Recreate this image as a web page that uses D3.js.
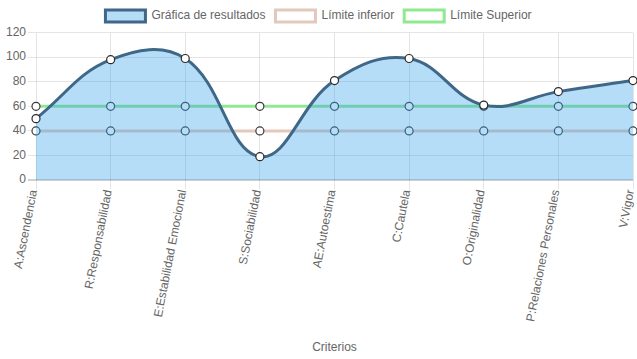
<!DOCTYPE html>
<html><head><meta charset="utf-8">
<script src="https://cdn.jsdelivr.net/npm/d3@7"></script>
<style>body{margin:0;background:#fff}svg{display:block}text{font-family:"Liberation Sans",Arial,Helvetica,sans-serif;}</style>
</head><body>
<svg id="c" width="637" height="359"></svg>
<script>
const categories = ["A:Ascendencia","R:Responsabilidad","E:Estabilidad Emocional","S:Sociabilidad","AE:Autoestima","C:Cautela","O:Originalidad","P:Relaciones Personales","V:Vigor"];
const resultados = [50, 98, 99, 19, 81, 99, 61, 72, 81];
const limiteInferior = [40, 40, 40, 40, 40, 40, 40, 40, 40];
const limiteSuperior = [60, 60, 60, 60, 60, 60, 60, 60, 60];
const yTicks = [0, 20, 40, 60, 80, 100, 120];
const legendLabels = ["Gráfica de resultados", "Límite inferior", "Límite Superior"];
const xTitle = "Criterios";

(function () {
const W = 637, H = 359;
const pL = 36, pR = 633, pT = 32.7, pB = 180;
const svg = d3.select("#c");
const x = d3.scalePoint().domain(categories).range([pL, pR]);
const y = d3.scaleLinear().domain([0, 120]).range([pB, pT]);

const grid = "rgba(0,0,0,0.1)";
const txt = "#666";

const g = svg.append("g");
yTicks.forEach(t => {
  g.append("line").attr("x1", pL - 8).attr("x2", pR).attr("y1", y(t)).attr("y2", y(t))
    .attr("stroke", t === 0 ? "rgba(0,0,0,0.18)" : grid).attr("stroke-width", t === 0 ? 2 : 1).attr("shape-rendering","crispEdges");
  g.append("text").attr("x", pL - 10).attr("y", y(t)).attr("text-anchor", "end")
    .attr("dominant-baseline", "middle").attr("font-size", 12).attr("fill", txt).text(t);
});
categories.forEach(c => {
  g.append("line").attr("x1", x(c)).attr("x2", x(c)).attr("y1", pT).attr("y2", pB + 9)
    .attr("stroke", grid).attr("shape-rendering","crispEdges");
  g.append("text").attr("transform", `translate(${x(c) - 2},${pB + 10}) rotate(-79)`)
    .attr("text-anchor", "end").attr("dominant-baseline", "middle")
    .attr("font-size", 12).attr("fill", txt).text(c);
});
svg.append("text").attr("x", (pL + pR) / 2).attr("y", 348).attr("text-anchor", "middle")
  .attr("dominant-baseline", "middle").attr("font-size", 12).attr("fill", txt).text(xTitle);

function controlPoints(pts, t) {
  return pts.map((p, i) => {
    const prev = pts[i - 1] || p, next = pts[i + 1] || p;
    const d01 = Math.hypot(p[0] - prev[0], p[1] - prev[1]);
    const d12 = Math.hypot(next[0] - p[0], next[1] - p[1]);
    let s01 = d01 / (d01 + d12), s12 = d12 / (d01 + d12);
    if (isNaN(s01)) s01 = 0; if (isNaN(s12)) s12 = 0;
    const fa = t * s01, fb = t * s12;
    const cap = (q) => [Math.max(pL, Math.min(pR, q[0])), Math.max(pT, Math.min(pB, q[1]))];
    return {
      prev: cap([p[0] - fa * (next[0] - prev[0]), p[1] - fa * (next[1] - prev[1])]),
      next: cap([p[0] + fb * (next[0] - prev[0]), p[1] + fb * (next[1] - prev[1])])
    };
  });
}
function splinePath(vals, path) {
  const pts = vals.map((v, i) => [x(categories[i]), y(v)]);
  const cp = controlPoints(pts, 0.4);
  path.moveTo(pts[0][0], pts[0][1]);
  for (let i = 1; i < pts.length; i++) {
    path.bezierCurveTo(cp[i-1].next[0], cp[i-1].next[1], cp[i].prev[0], cp[i].prev[1], pts[i][0], pts[i][1]);
  }
  return pts;
}

const datasets = [
  {vals: limiteSuperior, stroke: "rgb(144,232,144)"},
  {vals: limiteInferior, stroke: "rgb(228,200,188)"}
];
datasets.forEach(ds => {
  const p = d3.path();
  const pts = splinePath(ds.vals, p);
  svg.append("path").attr("d", p.toString()).attr("fill", "none").attr("stroke", ds.stroke).attr("stroke-width", 3);
  svg.selectAll(null).data(pts).enter().append("circle").attr("cx", d => d[0]).attr("cy", d => d[1])
    .attr("r", 4).attr("fill", "#fff").attr("stroke", "#3a3a3a").attr("stroke-width", 1.2);
});

const lineColor = "#3f6787";
const fillColor = "rgba(54,162,235,0.36)";
const pa = d3.path();
const rpts = splinePath(resultados, pa);
pa.lineTo(rpts[rpts.length - 1][0], y(0));
pa.lineTo(rpts[0][0], y(0));
pa.closePath();
svg.append("path").attr("d", pa.toString()).attr("fill", fillColor);
const pl = d3.path();
splinePath(resultados, pl);
svg.append("path").attr("d", pl.toString()).attr("fill", "none").attr("stroke", lineColor).attr("stroke-width", 3);
svg.selectAll(null).data(rpts).enter().append("circle").attr("cx", d => d[0]).attr("cy", d => d[1])
  .attr("r", 4).attr("fill", "#fff").attr("stroke", "#2a2a2a").attr("stroke-width", 1.2);

const legStyles = [
  {fill: "rgba(54,162,235,0.36)", stroke: lineColor},
  {fill: "#fff", stroke: "rgb(228,200,188)"},
  {fill: "#fff", stroke: "rgb(144,232,144)"}
];
const lg = svg.append("g");
const tmp = lg.append("text").attr("font-size", 12);
const widths = legendLabels.map(l => { tmp.text(l); return tmp.node().getComputedTextLength(); });
tmp.remove();
const itemW = widths.map(w => 40 + 6 + w + 10);
const total = d3.sum(itemW);
let cx = (W - total) / 2 + 5;
legendLabels.forEach((l, i) => {
  lg.append("rect").attr("x", cx).attr("y", 10).attr("width", 40).attr("height", 12)
    .attr("fill", legStyles[i].fill).attr("stroke", legStyles[i].stroke).attr("stroke-width", 3);
  lg.append("text").attr("x", cx + 46).attr("y", 16).attr("dominant-baseline", "middle")
    .attr("font-size", 12).attr("fill", txt).text(l);
  cx += itemW[i];
});
})();
</script>
</body></html>
